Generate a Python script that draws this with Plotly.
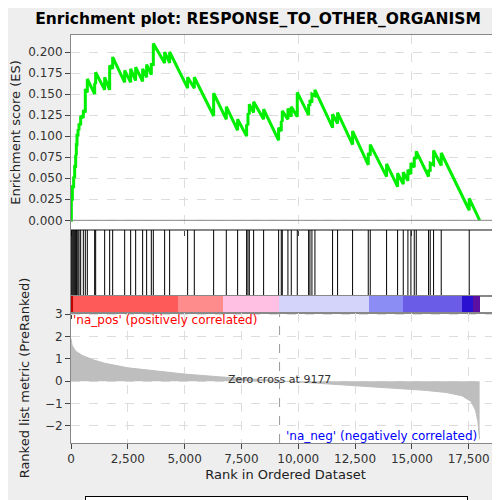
import plotly.graph_objects as go
from plotly.subplots import make_subplots

# hit ranks and running enrichment score just before / after each hit
hit_rank = [15, 59, 117, 161, 205, 235, 264, 308, 352, 425, 543, 630, 718, 1041, 1085,
            1481, 1701, 1833, 2361, 2625, 2845, 3152, 3328, 3534, 3622, 4120, 4340, 5132,
            5425, 6276, 6833, 7331, 7727, 7786, 7845, 8035, 8475, 9135, 9252, 9296, 9545,
            9692, 9956, 10455, 10513, 10601, 10733, 11510, 11730, 12390, 13079, 13167,
            13886, 14370, 14619, 14824, 14956, 15103, 15191, 15733, 15806, 15953, 16290, 17522]
es_before = [0, 0.025, 0.04, 0.05, 0.064, 0.077, 0.09, 0.1, 0.107, 0.113, 0.122, 0.128, 0.152,
             0.15, 0.162, 0.155, 0.155, 0.18, 0.164, 0.164, 0.166, 0.165, 0.17, 0.173, 0.185,
             0.187, 0.187, 0.157, 0.157, 0.124, 0.12, 0.107, 0.1, 0.113, 0.126, 0.128, 0.12,
             0.095, 0.106, 0.117, 0.12, 0.123, 0.123, 0.125, 0.136, 0.14, 0.148, 0.11, 0.115,
             0.09, 0.066, 0.077, 0.052, 0.04, 0.043, 0.047, 0.055, 0.063, 0.073, 0.052, 0.058,
             0.066, 0.065, 0.012]
es_after = [0.025, 0.04, 0.052, 0.064, 0.078, 0.09, 0.103, 0.108, 0.115, 0.124, 0.131, 0.156,
            0.168, 0.163, 0.176, 0.17, 0.184, 0.194, 0.178, 0.18, 0.182, 0.18, 0.185, 0.185,
            0.21, 0.2, 0.2, 0.17, 0.17, 0.151, 0.135, 0.12, 0.114, 0.127, 0.138, 0.141, 0.132,
            0.11, 0.118, 0.13, 0.133, 0.135, 0.152, 0.138, 0.143, 0.15, 0.155, 0.126, 0.128,
            0.106, 0.08, 0.09, 0.067, 0.056, 0.057, 0.06, 0.068, 0.075, 0.082, 0.06, 0.068,
            0.083, 0.08, 0.026]
n_genes = 17980

# ranking metric (read at a few ranks)
metric_rank = [0, 50, 200, 500, 1000, 1500, 2500, 3500, 5000, 6500, 7500, 9177, 11000,
               12500, 14000, 15500, 16500, 17200, 17600, 17800, 17900, 17980]
metric_val = [1.9, 1.6, 1.35, 1.15, 0.95, 0.8, 0.6, 0.48, 0.32, 0.2, 0.13, 0.0, -0.12,
              -0.2, -0.3, -0.4, -0.5, -0.65, -0.9, -1.3, -1.8, -2.6]

# colour band along the ranked list
band_start = [0, 100, 4700, 6700, 9150, 13100, 14600, 17200, 17700]
band_end = [100, 4700, 6700, 9150, 13100, 14600, 17200, 17700, 17980]
band_color = ['#c00000', '#ff5a5a', '#ff8c8c', '#ffc0e4', '#d4d4fa', '#8c8cf5',
              '#6a5ce6', '#2a10d0', '#5a10a0']

es_x = [0]
es_y = [0]
for r, b, a in zip(hit_rank, es_before, es_after):
    es_x += [r, r]
    es_y += [b, a]
es_x.append(n_genes)
es_y.append(0)

fig = make_subplots(rows=4, cols=1, shared_xaxes=True, vertical_spacing=0,
                    row_heights=[195, 66, 17, 130])

fig.add_trace(go.Scatter(x=es_x, y=es_y, mode='lines', line=dict(color='#00ee00', width=3),
                         name='Enrichment profile'), row=1, col=1)

hx, hy = [], []
for r in hit_rank:
    hx += [r, r, None]
    hy += [0, 1, None]
fig.add_trace(go.Scatter(x=hx, y=hy, mode='lines', line=dict(color='black', width=1),
                         name='Hits'), row=2, col=1)

for s, e, c in zip(band_start, band_end, band_color):
    fig.add_trace(go.Bar(x=[e - s], y=[0.5], base=[s], orientation='h', width=1,
                         marker=dict(color=c, line=dict(width=0)), showlegend=False),
                  row=3, col=1)

fig.add_trace(go.Scatter(x=metric_rank, y=metric_val, mode='lines', fill='tozeroy',
                         line=dict(color='#bebebe', width=1), fillcolor='#bebebe',
                         name='Ranking metric scores'), row=4, col=1)

grid = dict(showgrid=True, gridcolor='#dddddd', griddash='dash', zeroline=False,
            showline=True, linecolor='#888888', mirror=True, ticks='outside',
            automargin=False, tickfont=dict(size=12, color='#333333'))
fig.update_xaxes(range=[0, 18876], **grid)
fig.update_xaxes(tickformat=',', dtick=2500, row=4, col=1)
fig.update_xaxes(title=dict(text='Rank in Ordered Dataset', font=dict(size=13), standoff=4),
                 row=4, col=1)
fig.update_xaxes(showgrid=False, row=2, col=1)
fig.update_xaxes(showgrid=False, row=3, col=1)
fig.update_yaxes(**grid)
fig.update_yaxes(range=[-0.0115, 0.2202], dtick=0.025, tickformat='.3f',
                 title=dict(text='Enrichment score (ES)', font=dict(size=13), standoff=6),
                 row=1, col=1)
fig.update_yaxes(range=[0, 1], showticklabels=False, showgrid=False, ticks='', row=2, col=1)
fig.update_yaxes(range=[0, 1], showticklabels=False, showgrid=False, ticks='', row=3, col=1)
fig.update_yaxes(range=[-2.76, 3.05], dtick=1,
                 title=dict(text='Ranked list metric (PreRanked)', font=dict(size=13), standoff=12),
                 row=4, col=1)

fig.add_shape(type='line', x0=9177, x1=9177, y0=-2.76, y1=3.05, xref='x4', yref='y4',
              line=dict(color='#999999', width=1, dash='dash'))
fig.add_hline(y=0, line=dict(color='#888888', width=1), row=1, col=1)
fig.add_annotation(x=0, y=2.75, xref='x4', yref='y4', xanchor='left', showarrow=False,
                   text="'na_pos' (positively correlated)", font=dict(color='red', size=12))
fig.add_annotation(x=9350, y=-2.45, xref='x4', yref='y4', xanchor='left', showarrow=False,
                   text="'na_neg' (negatively correlated)", font=dict(color='blue', size=12))
fig.add_annotation(x=9177, y=0.1, xref='x4', yref='y4', showarrow=False,
                   text='Zero cross at 9177', font=dict(color='#333333', size=11))

fig.update_layout(
    width=500, height=500,
    paper_bgcolor='#eeeeee', plot_bgcolor='white',
    font=dict(family='DejaVu Sans', color='#222222'),
    title=dict(text='<b>Enrichment plot: RESPONSE_TO_OTHER_ORGANISM</b>', x=0.5, y=0.99,
               yanchor='top', font=dict(size=15.5, color='black')),
    margin=dict(l=63, r=8, t=27, b=65, autoexpand=False),
    barmode='overlay', bargap=0,
    legend=dict(orientation='h', x=0.48, xanchor='center', y=-0.13, yanchor='top',
                bordercolor='black', borderwidth=1, bgcolor='white', font=dict(size=11),
                itemwidth=30, tracegroupgap=0),
)

fig.write_html('out.html')
